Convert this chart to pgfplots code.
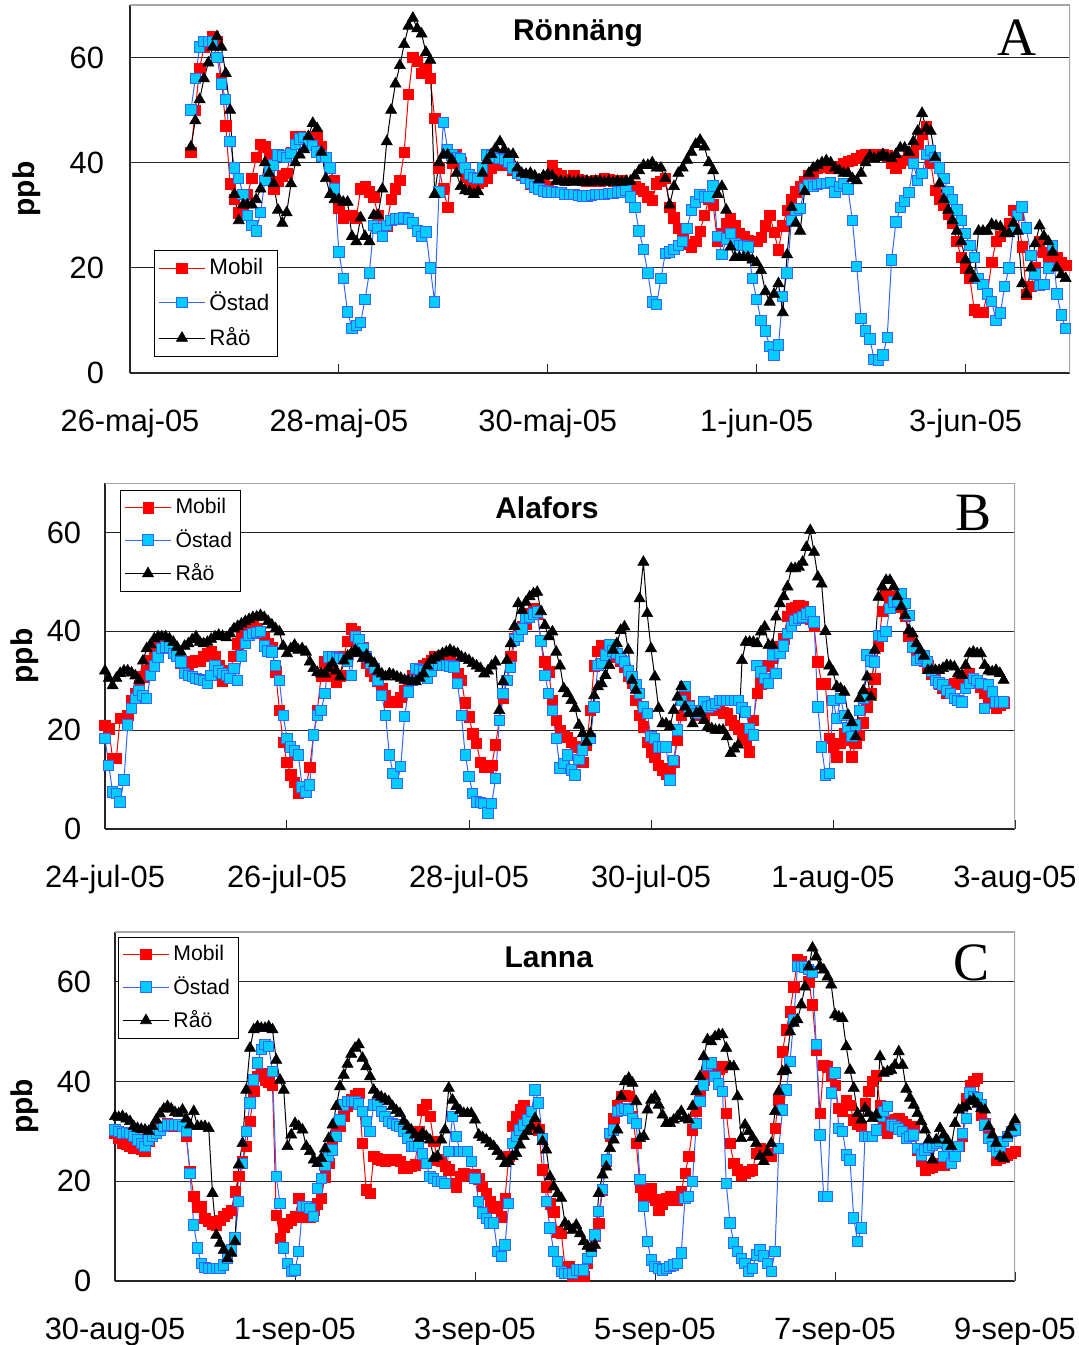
\documentclass[border=0pt]{standalone}
\usepackage{fontspec}
\setmainfont{Liberation Sans}
\newfontfamily\timesfont{Liberation Serif}
\usepackage{pgfplots}
\usepackage{pgfplotstable}
\pgfplotsset{compat=1.18}
\definecolor{ostfill}{RGB}{0,204,255}
\definecolor{ostline}{RGB}{51,102,255}

% ---------------- Panel A (hourly, first value at hour 14) ----------------
\pgfplotstableread[header=false,row sep=\\]{
42\\50\\58\\62\\63\\64\\63\\56\\47\\36\\
33\\30.5\\31.5\\34\\37\\41\\43.5\\43\\41.5\\35\\
36.5\\37.5\\38\\42\\45\\45\\44.5\\44.8\\45\\45.2\\
43\\41\\39\\36.6\\31.3\\29.5\\30\\30\\29.5\\35\\
35.5\\34.5\\33.5\\30\\27\\28\\33\\35\\36.6\\42\\
53\\60\\59.3\\57\\58\\56\\48.5\\39\\35\\31.5\\
40\\41.5\\40\\37.2\\36.5\\36\\36.2\\36.5\\37\\39\\
40.5\\39.5\\40\\39.5\\38.6\\38\\37.6\\37\\36\\36.2\\
36.2\\35.8\\35.5\\39.5\\38\\37.5\\36.6\\36.8\\37.5\\36.8\\
36.6\\36.5\\36.5\\36.6\\36.5\\37\\36.8\\36.5\\36.6\\36.6\\
34.5\\33.8\\35.4\\35\\34.6\\33.5\\32.8\\36\\36.5\\37\\
31.5\\29.5\\27.5\\26\\24.5\\24\\25\\27\\30\\33\\
32\\25\\26.5\\28.5\\29.3\\28\\26.5\\26\\25.2\\25\\
25\\25.8\\28\\30\\26.8\\23.4\\28\\31\\33\\34.5\\
35.5\\36.5\\37.5\\38\\38.9\\39.2\\39.5\\39\\39\\39.3\\
39.8\\40.3\\40.5\\40.8\\41.3\\41.5\\41.6\\41.3\\41.5\\41.6\\
41.3\\40\\39\\40\\40.5\\41.3\\42\\43.5\\45.5\\46.8\\
40\\34.7\\33\\32\\30.3\\28.5\\25\\22\\20\\18\\
12\\11.6\\11.6\\15\\21\\25\\26\\27\\28.5\\31\\
30\\24\\15\\16.5\\20\\25\\23\\21.5\\23\\22\\
21\\20.5\\
}\mobA
\pgfplotstableread[header=false,row sep=\\]{
50\\56\\62\\63\\63\\63\\60\\55\\52\\44\\
39\\37\\34\\30\\28\\27\\30.5\\36.6\\38.5\\39.6\\
41.5\\41.3\\41\\41.8\\43.5\\44.5\\44.8\\44\\43.3\\42\\
41.3\\41\\39\\35\\23\\18\\11.6\\8.5\\9\\9.6\\
14\\19\\28\\27.5\\26\\28\\29\\29.3\\29.3\\29.5\\
29.3\\28.5\\27\\26\\26.8\\20\\13.5\\34.4\\47.7\\42.5\\
41.5\\41\\40.8\\39\\37.8\\37.2\\37\\39\\41.5\\41.3\\
41\\40.8\\40.6\\40\\39\\38\\37.8\\37\\36\\35.4\\
35\\34.6\\34.4\\34.4\\34.3\\34.3\\34\\34\\34\\33.8\\
33.7\\33.7\\33.8\\34\\34\\34\\34.2\\34.2\\34.4\\34.4\\
34.7\\33.5\\31.5\\27\\23.5\\19\\13.5\\13\\18\\22.7\\
23\\23.5\\24.2\\25\\27.5\\31\\32.5\\34\\33.5\\33.5\\
35.6\\26\\22.5\\25.5\\26.5\\24.5\\24.3\\24.2\\24\\18\\
14\\10\\8\\5\\3.4\\5.3\\14.5\\19\\29\\31\\
31.3\\35\\35.8\\35.5\\35.8\\36\\36.1\\36.2\\34.4\\35.5\\
36\\35\\29\\20.2\\10.4\\8\\6.5\\2.6\\2.5\\3.4\\
6.8\\21.5\\28.7\\31.5\\32.7\\34.3\\39.8\\36.6\\37.9\\41.6\\
42.3\\41\\39\\37\\34.5\\33\\31\\29\\26.5\\24.3\\
22\\18\\16.8\\15\\13.6\\10\\11.4\\16.5\\20\\27.3\\
30\\31.6\\27.6\\22.3\\18.8\\16.6\\16.8\\20\\24.3\\15\\
11\\8.5\\
}\ostA
\pgfplotstableread[header=false,row sep=\\]{
43\\48\\52\\56\\59\\62\\64\\62\\57\\50\\
34\\29\\32\\32\\32\\33\\35\\40\\38\\36\\
31\\28.5\\30.5\\36\\40\\41.5\\42.5\\45\\47.5\\46.5\\
42\\37\\34\\33\\33\\32.5\\32.5\\26\\25\\29.5\\
26\\25\\30\\30\\35\\44\\50\\55\\58.5\\62.5\\
66\\67.5\\65.5\\64.5\\61\\59.5\\34\\40\\41.5\\41.5\\
40.5\\38\\35.5\\34.7\\34.5\\34\\34.5\\38\\40.4\\41.6\\
42.7\\44\\42.5\\41.6\\41.6\\39\\38\\37.8\\38\\37.5\\
36.8\\37.5\\37.8\\37.5\\36.5\\36.5\\36.3\\36.5\\36.3\\36.5\\
36.3\\36.5\\36.3\\36.5\\36.5\\36.3\\36.5\\36.3\\36.5\\36.3\\
36.5\\36.5\\37.5\\38.5\\39.5\\39.5\\40\\39\\39\\37\\
32\\35.5\\38\\39\\40.5\\42\\43.5\\44.3\\43\\40\\
38.5\\34\\35.5\\31\\24\\22\\22\\22\\22\\21.5\\
21\\19.5\\15.5\\13.5\\15\\17\\11.5\\22.5\\31.5\\28.5\\
27\\34.5\\38\\39\\39.5\\40\\40.4\\40\\39\\38.5\\
38\\38\\37\\36.6\\38\\40\\41.3\\40.8\\41\\41.6\\
41\\40.8\\41.6\\42.8\\42.8\\42\\44\\46\\49.4\\46.5\\
46\\41\\36\\33\\31\\29\\27\\25\\21.5\\19.5\\
18\\27\\27\\27\\28.3\\28\\27.8\\26.5\\26.5\\28.5\\
27\\17\\15\\20\\24.6\\28\\26\\25\\23\\20\\
18.7\\18\\
}\raoA

% ---------------- Panel B (hourly from hour 0) ----------------
\pgfplotstableread[header=false,row sep=\\]{
21\\20.3\\14.3\\14.3\\22.4\\22.4\\23\\26\\27.4\\29\\
30.8\\32\\34\\35.5\\36.8\\38\\38.2\\37.2\\36.5\\35\\
33.5\\32.5\\33\\33.8\\34\\34\\35\\35.5\\36\\34.8\\
33\\30\\30.8\\32\\35\\37.5\\39.5\\40.5\\40.9\\40.9\\
40.5\\40\\38.8\\37.5\\36.8\\31.8\\24\\17.5\\13.5\\11\\
9.5\\7.2\\7.5\\8.5\\12.5\\19\\24\\31\\33.8\\32.8\\
31\\29.8\\31\\35\\38\\40.5\\40\\37.5\\36.8\\33.5\\
32\\31\\30\\28.4\\27\\25.7\\25.7\\25.7\\26.7\\28\\
29.5\\31\\32\\32.1\\33\\33.5\\34\\34.8\\35\\35.2\\
35\\34.1\\33.2\\31.5\\30.1\\25.5\\22.7\\19.3\\17.3\\13.5\\
12.6\\12.6\\12.9\\17\\22\\26.4\\30.1\\35\\38.5\\40\\
40.9\\41.5\\43.6\\44.6\\43.5\\38\\33.8\\31.8\\26\\22\\
20\\18.7\\18.5\\17.5\\16.6\\13.9\\13.5\\17\\24\\33\\
36\\37.2\\37\\36.2\\35.5\\34.8\\34\\32.8\\31\\29.5\\
26\\23\\20.7\\17.5\\15.5\\14.6\\12.9\\12\\11.2\\12.3\\
13.6\\18\\23\\26.7\\25\\24\\23.4\\23\\22.7\\24\\
24\\24\\24\\23.5\\23.4\\22\\21\\20.3\\19\\18\\
15.6\\22\\27.5\\29.4\\30.1\\33\\34.5\\35.5\\37\\38.5\\
43\\44.6\\44.8\\45.3\\45\\44\\42.5\\41\\33.8\\29.4\\
29.4\\18.3\\16.5\\14.6\\17.3\\19.3\\18\\14.6\\17.3\\19\\
21.5\\24.7\\27.5\\30.4\\37\\44\\47.3\\47\\46.6\\46\\
44.8\\43\\39\\37\\35.8\\34.5\\34\\33\\31.4\\30.5\\
29.4\\28.5\\27.4\\28.5\\29.4\\30\\30.4\\31\\31.4\\30.5\\
29.5\\28.8\\27.5\\26.7\\25.5\\24.4\\25\\25.5\\
}\mobB
\pgfplotstableread[header=false,row sep=\\]{
18.3\\12.9\\7.5\\7.2\\5.5\\9.9\\21\\24.4\\26.4\\28\\
27\\26.4\\31\\33\\34.8\\36.5\\36.8\\36.8\\35.5\\35\\
33.8\\31.4\\31\\30.8\\30.4\\30.2\\30.1\\29.4\\31\\33.1\\
32\\31.4\\31\\30.4\\32.5\\30.1\\35\\37.5\\39.2\\39.5\\
39.7\\39.9\\37\\36\\35.8\\33.1\\30\\23\\18.3\\16.6\\
15.8\\15\\8.5\\7.5\\8.9\\19\\23\\24\\27.4\\34.8\\
34.8\\34.6\\34.5\\34.5\\34\\31.1\\39\\38.2\\36.5\\34.8\\
33.5\\32.5\\30.1\\27\\23\\15\\11.2\\9.2\\12.6\\22.7\\
27.7\\30\\32.5\\32.3\\32.1\\30.4\\32\\33.1\\33.1\\33.1\\
33.1\\33\\32.8\\29.4\\23\\15\\10.6\\7.2\\5.5\\5.3\\
5.2\\3.2\\5.2\\10.2\\22\\27.4\\30.1\\32.8\\38.2\\38.9\\
40.5\\42.6\\42.9\\43.5\\43.9\\38\\31.1\\27.4\\24\\18.3\\
12.3\\13.3\\15\\11.9\\10.9\\14\\16\\18\\18.3\\24.7\\
33.1\\33.5\\35.2\\37.2\\36\\35.5\\34.5\\33.8\\32\\30.8\\
29.1\\27.4\\24.7\\23.4\\18.7\\18.3\\16.6\\16.6\\16.6\\9.9\\
13.9\\20\\26\\28.8\\24.7\\24\\23.4\\24\\25.7\\24.7\\
25\\25.4\\26\\26\\26\\26\\26\\26\\24.5\\23.7\\
20.3\\19\\33.1\\31.8\\30.5\\29.4\\35.2\\31.4\\35.5\\37\\
39.5\\41\\42.2\\42.6\\42.9\\43.5\\43.9\\41.9\\24.7\\16.6\\
10.9\\11.2\\26\\22.4\\26.4\\23\\20.5\\18.7\\21\\24\\
26.4\\35.2\\34\\33.8\\39.2\\38.9\\40\\44.6\\45.9\\46\\
47.6\\45.6\\43.2\\36.8\\34.1\\34.5\\35\\33.8\\32\\30.1\\
29.5\\29.1\\28\\27.4\\26.4\\26\\25.7\\28.4\\29.5\\30.4\\
30\\29.4\\24.4\\29.1\\27.7\\25.7\\25.7\\25.7\\
}\ostB
\pgfplotstableread[header=false,row sep=\\]{
32\\30.5\\29\\30.5\\31.5\\32\\32\\31.6\\31\\30.1\\
34\\36.5\\37.3\\38.5\\38.9\\38.9\\38.9\\38.5\\37.8\\36.8\\
35.8\\37\\37.5\\38.3\\38.9\\37.8\\37.5\\37.8\\38.4\\38.9\\
39.2\\39\\38.7\\39.5\\40.5\\41\\41.5\\42\\42.4\\42.8\\
42.9\\43.2\\42.8\\42\\41.3\\40.5\\39.9\\37\\35.5\\36.5\\
37.2\\36.2\\36.5\\35.8\\33.8\\32.5\\31.7\\31.4\\31.4\\32.5\\
33.5\\32\\30.8\\34\\35\\35.6\\36.2\\35.5\\34.5\\35.2\\
34.2\\33.5\\32\\31.4\\30.8\\31.4\\31.2\\30.8\\30.5\\30.1\\
30\\29.8\\29.8\\30.5\\31.4\\33\\34.1\\34.6\\35\\35.5\\
35.8\\36.2\\35.8\\35.5\\34.8\\34.5\\34.1\\33.5\\33\\32.5\\
31.4\\32\\33\\33.8\\24\\29.8\\34.1\\37.5\\41\\45.6\\
44.2\\45.9\\47\\47.6\\47.9\\44\\41.2\\38.9\\39.9\\35.8\\
33\\28.4\\27.4\\26\\24.4\\21\\19.3\\17.6\\19.3\\27\\
28.8\\29.4\\31.1\\33.1\\36.2\\37.5\\40.2\\40.9\\36.2\\30.1\\
28.1\\46.6\\54\\43.6\\36.5\\30.8\\24.4\\21.3\\21.3\\20.7\\
24\\26.7\\28.8\\24.7\\23.4\\21.3\\23.4\\23.7\\22\\20.7\\
20.3\\20\\20\\20\\18.7\\15.3\\16.2\\17\\34.1\\37.8\\
37.8\\37.8\\37.5\\39.9\\40.9\\37.2\\37.2\\42.9\\45.6\\47\\
49\\52.7\\52.7\\53\\54\\57\\60.4\\56\\51\\49.6\\
40\\33\\31.8\\28.8\\28.4\\27.7\\23\\21.5\\18.7\\26.4\\
28\\30.8\\26.7\\36.2\\46.9\\49\\50.3\\50.3\\49\\47\\
45\\43.2\\40.2\\39.5\\37.5\\36.2\\35\\32.1\\32.1\\32.1\\
32.1\\32.5\\33.1\\33\\32.8\\31.5\\31.1\\33.1\\35.5\\35.8\\
35.5\\35.5\\33.1\\32\\31.8\\32.1\\31.5\\30.1\\
}\raoB

% ---------------- Panel C (hourly from hour 0) ----------------
\pgfplotstableread[header=false,row sep=\\]{
29.6\\28.6\\27.6\\27.5\\27\\26.6\\27\\26.5\\26\\28\\
30\\30.3\\30.6\\31\\31.6\\31.3\\31\\31.3\\31\\29\\
22\\17\\14.9\\14.9\\12.6\\12\\11.4\\11.2\\12.2\\13\\
13.6\\14.2\\17.9\\21\\24\\27\\32\\38\\41\\41.7\\
40.3\\39.8\\39.3\\13.2\\8.6\\10.9\\11.6\\12.3\\12.9\\16.6\\
14\\12.9\\12.9\\14.2\\15.5\\16.6\\20.9\\23.6\\27\\29.6\\
31\\33\\35\\36.5\\37.3\\37.7\\27.6\\18.3\\17.6\\25\\
24.5\\24.2\\24\\24.3\\24.3\\24.3\\24\\22.6\\22.6\\23\\
23.3\\30\\34.3\\35.5\\33\\28\\24.3\\24\\23\\22.3\\
19.6\\18.9\\21\\21.5\\21.3\\21.3\\21.3\\20.5\\19\\17.5\\
15.9\\14.9\\14.6\\12.9\\16.6\\25\\31\\33\\34.3\\35.3\\
34\\32\\31\\30.3\\22.3\\18.9\\15.5\\13.9\\9.9\\9.6\\
2.9\\2.9\\0.9\\1\\1\\0.9\\3.5\\6.2\\9\\11.6\\
18.3\\24\\29\\32.6\\35.3\\37\\37.3\\37\\33\\27.6\\
18.9\\16.9\\18.3\\18.6\\16.3\\14.2\\15.5\\16.6\\16.9\\16.3\\
16.3\\18\\21.6\\25\\30.3\\34\\37\\40.3\\42.3\\42\\
41.7\\42.5\\43\\33.6\\27.6\\23.6\\22.3\\21.3\\21.6\\22\\
22.3\\25.6\\26.6\\26\\25.6\\25\\30.6\\36.3\\46\\50.4\\
54\\59\\64.4\\64\\63.1\\60\\55.4\\46.4\\33.6\\43.3\\
43\\41\\39.3\\34.6\\34\\36.3\\35.3\\32.3\\31.5\\31\\
35.7\\38\\40\\41.3\\35.3\\31\\29.6\\32\\32.3\\32.6\\
32\\31.3\\30.6\\31\\26.3\\24\\22.3\\22.6\\22.9\\23.2\\
23.6\\23.3\\23.8\\24.3\\25.3\\27\\29\\36.7\\39.3\\40\\
40.7\\33.3\\31.6\\29.5\\27.6\\24.3\\24.6\\24.8\\25.3\\25.6\\
26\\
}\mobC
\pgfplotstableread[header=false,row sep=\\]{
30.3\\30\\29.6\\29.8\\29.6\\29\\28.3\\27.6\\27\\28.3\\
29\\29.6\\30.3\\31\\31.3\\31.3\\31.3\\31.3\\31\\30\\
21.6\\11.2\\6.6\\3.5\\2.7\\2.5\\2.5\\2.5\\2.5\\3.2\\
4.5\\6.2\\8.6\\15.9\\23.6\\30\\35.7\\40.3\\43.7\\46.4\\
47.4\\47\\42\\20.9\\15.6\\6.6\\3.5\\1.9\\2.2\\5.9\\
14.9\\14.9\\14.6\\12.9\\18.6\\20.5\\23.3\\25\\26.3\\29\\
32.3\\35.3\\36\\36\\36\\35.5\\34\\32\\30\\35.3\\
35.3\\34\\33\\32\\31.6\\31.3\\31\\30\\28.6\\27\\
27\\27\\25.5\\23.6\\21\\20.5\\19.9\\19.9\\19.6\\26\\
33\\29\\26\\26\\26\\24\\20.6\\15.9\\13.6\\12.5\\
11.6\\11.6\\5.9\\4.9\\7.2\\15.6\\27.6\\29\\30.3\\31.3\\
32.3\\34\\38.3\\35.7\\28.6\\15.9\\10.6\\5.9\\3.9\\1.9\\
1.5\\1.5\\1.5\\2.2\\2.2\\2.2\\4.5\\5.9\\9.2\\13.9\\
18.3\\24.3\\29.6\\30.3\\34\\34.3\\34.6\\34.3\\32.6\\31.6\\
20.3\\14.9\\7.9\\4.2\\2.9\\2.5\\2.2\\2.5\\2.9\\3.2\\
3.5\\5.6\\16.6\\16.9\\19.9\\31.6\\36\\39.3\\43.3\\43.7\\
41\\39.5\\38\\19.6\\11.6\\7.6\\5.9\\4.5\\3.5\\1.9\\
2.5\\5.2\\6.2\\5\\3.5\\1.9\\5.9\\26.6\\34.3\\38.3\\
44\\52.4\\63.1\\63.1\\63\\62.5\\62\\47.4\\29.3\\16.9\\
16.9\\37.7\\41.7\\30.6\\30\\25.3\\24.3\\12.6\\7.9\\10.6\\
29\\29\\29\\30.3\\33\\34\\35\\31.3\\31\\30.5\\
30\\28.6\\29\\29.3\\26.6\\25.3\\26.3\\26.8\\27.3\\27.6\\
28\\25\\27\\23.6\\25\\27\\29.6\\32.6\\37.7\\37\\
36.7\\35.3\\31.3\\28.6\\27\\26\\27\\28\\29\\30\\
30.3\\
}\ostC
\pgfplotstableread[header=false,row sep=\\]{
33\\32.8\\33\\32.5\\32\\31\\30.6\\30.4\\30.3\\30\\
31\\32.3\\33.5\\34.5\\35\\34.5\\33.8\\33.6\\34.3\\32.5\\
31.3\\34\\31\\31\\31\\30.6\\17.6\\9.2\\7.6\\6.2\\
4.5\\5.6\\7.9\\23.3\\27.6\\38.3\\46.7\\50.4\\51\\50.7\\
50.7\\51\\50.4\\44.3\\40.3\\38.3\\27\\29.3\\31.6\\31\\
30.3\\27\\26\\24.3\\23.6\\24.6\\26.5\\28.6\\31.3\\35\\
39\\41.3\\43.5\\45.5\\46.7\\47.4\\44.7\\43\\41\\38.3\\
37.3\\36.9\\36.5\\36\\35\\34.2\\33.6\\32\\31\\30.3\\
29.3\\28.6\\29.6\\29\\28.3\\24.6\\25\\28.3\\30.3\\38.7\\
36.3\\35\\34.2\\33.6\\33.6\\33.6\\32.3\\29.3\\28.8\\28.3\\
27.6\\27\\26\\25\\23.6\\24\\25\\25.6\\27.3\\29\\
30\\31\\32.6\\30.3\\28\\26.3\\20.9\\18.9\\17.5\\16.6\\
11.6\\10.9\\10.2\\11.2\\9.5\\7.9\\7\\6.6\\7.2\\17.6\\
21.3\\22.9\\26.6\\28.3\\30.3\\37\\40\\40.7\\39.7\\36\\
28.6\\29\\34.3\\36.3\\37\\35.3\\33.3\\31.6\\31.6\\32.3\\
33\\34\\32.6\\32.3\\35\\38\\41\\45\\48.4\\48\\
49\\49.4\\49.4\\46.7\\43\\43\\37\\28.6\\31.3\\30\\
28.8\\27.6\\25\\24\\25.8\\27.6\\34\\38\\42\\42.3\\
50\\51.7\\52.4\\55.4\\59\\63\\66.8\\65\\63.1\\62.4\\
61\\59.4\\53.4\\53\\52.7\\47\\42.3\\38.7\\33.6\\32.3\\
34.6\\33.6\\32.6\\33.3\\45\\41.7\\42\\42.3\\43.3\\46\\
43.3\\38.5\\36.7\\35.3\\33.6\\32\\30.3\\28.3\\24.3\\28.3\\
30.6\\29.3\\28.2\\27\\31.6\\34.3\\34.7\\35\\36\\36.3\\
35.5\\34.6\\34.3\\31\\29.3\\27.6\\25\\24.6\\29.3\\30.8\\
32.3\\
}\raoC

\pgfplotsset{
  panel/.style={
    scale only axis, anchor=south west,
    ymin=0, ymax=70, ytick={0,20,40,60},
    ymajorgrids, major grid style={black!85, line width=0.5pt},
    axis x line*=bottom, axis y line*=left,
    axis line style={black!85, line width=0.6pt},
    x tick style={black!85, line width=0.5pt},
    xtick align=inside, major tick length=4.5pt,
    ytick style={draw=none},
    /pgf/number format/assume math mode=true,
    tick label style={font=\fontsize{15.4}{18}\selectfont},
    xticklabel style={yshift=-14.8pt},
    ylabel={ppb},
    ylabel style={font=\bfseries\fontsize{15}{18}\selectfont, anchor=center},
    legend cell align=left,
    legend image code/.code={\draw[mark repeat=2,mark phase=2] plot coordinates {(0pt,0pt) (11.5pt,0pt) (23pt,0pt)};},
  },
  mob/.style={red, line width=0.5pt, mark=square*, mark size=2.6pt, mark options={fill=red, draw=red, line width=0.3pt}},
  ost/.style={ostline, line width=0.5pt, mark=square*, mark size=2.6pt, mark options={fill=ostfill, draw=ostline, line width=0.5pt}},
  rao/.style={black, line width=0.5pt, mark=triangle*, mark size=3.2pt, mark options={fill=black, draw=black, line width=0.3pt}},
}

\begin{document}
\begin{tikzpicture}
\useasboundingbox (0,0) rectangle (539pt,672.5pt);

% ---------- A ----------
\begin{axis}[panel, at={(65pt,486pt)}, width=470pt, height=184pt,
  xmin=0, xmax=216, xtick={0,48,96,144,192},
  xticklabels={26-maj-05,28-maj-05,30-maj-05,1-jun-05,3-jun-05},
  yticklabel style={xshift=-9.5pt},
  ylabel style={at={(axis description cs:-0.1096,0.5)}},
  legend style={at={(0.0255,0.334)}, anchor=north west, draw=black, line width=0.5pt, fill=white,
    font=\fontsize{11.2}{13}\selectfont, inner xsep=2pt, inner ysep=2pt, row sep=3pt,
    /tikz/every even column/.append style={column sep=2pt}}]
\addplot[mob] table[x expr=\coordindex+14, y index=0] {\mobA};
\addplot[ost] table[x expr=\coordindex+14, y index=0] {\ostA};
\addplot[rao] table[x expr=\coordindex+14, y index=0] {\raoA};
\legend{Mobil,Östad,Råö}
\draw[gray!70, line width=0.6pt] (axis description cs:0,1) -- (axis description cs:1,1) -- (axis description cs:1,0);
\node[font=\bfseries\fontsize{15}{18}\selectfont] at (axis description cs:0.4766,0.922) {Rönnäng};
\node[font=\timesfont\fontsize{27}{30}\selectfont] at (axis description cs:0.9436,0.91) {A};
\end{axis}

% ---------- B ----------
\begin{axis}[panel, at={(52.5pt,258pt)}, width=455pt, height=173pt,
  xmin=0, xmax=240, xtick={0,48,96,144,192,240},
  xticklabels={24-jul-05,26-jul-05,28-jul-05,30-jul-05,1-aug-05,3-aug-05},
  yticklabel style={xshift=-8.4pt},
  ylabel style={at={(axis description cs:-0.088,0.5)}},
  legend style={at={(0.0165,0.98)}, anchor=north west, draw=black, line width=0.5pt, fill=white,
    font=\fontsize{10.6}{12.5}\selectfont, inner xsep=2pt, inner ysep=2pt, row sep=2.5pt,
    /tikz/every even column/.append style={column sep=2pt}}]
\addplot[mob] table[x expr=\coordindex, y index=0] {\mobB};
\addplot[ost] table[x expr=\coordindex, y index=0] {\ostB};
\addplot[rao] table[x expr=\coordindex, y index=0] {\raoB};
\legend{Mobil,Östad,Råö}
\draw[gray!70, line width=0.6pt] (axis description cs:0,1) -- (axis description cs:1,1) -- (axis description cs:1,0);
\node[font=\bfseries\fontsize{15}{18}\selectfont] at (axis description cs:0.4857,0.928) {Alafors};
\node[font=\timesfont\fontsize{27}{30}\selectfont] at (axis description cs:0.954,0.913) {B};
\end{axis}

% ---------- C ----------
\begin{axis}[panel, at={(57.5pt,32pt)}, width=450pt, height=174.5pt,
  xmin=0, xmax=240, xtick={0,48,96,144,192,240},
  xticklabels={30-aug-05,1-sep-05,3-sep-05,5-sep-05,7-sep-05,9-sep-05},
  yticklabel style={xshift=-8.4pt},
  ylabel style={at={(axis description cs:-0.1,0.5)}},
  legend style={at={(0.0033,0.986)}, anchor=north west, draw=black, line width=0.5pt, fill=white,
    font=\fontsize{10.6}{12.5}\selectfont, inner xsep=2pt, inner ysep=2pt, row sep=2.5pt,
    /tikz/every even column/.append style={column sep=2pt}}]
\addplot[mob] table[x expr=\coordindex, y index=0] {\mobC};
\addplot[ost] table[x expr=\coordindex, y index=0] {\ostC};
\addplot[rao] table[x expr=\coordindex, y index=0] {\raoC};
\legend{Mobil,Östad,Råö}
\draw[gray!70, line width=0.6pt] (axis description cs:0,1) -- (axis description cs:1,1) -- (axis description cs:1,0);
\node[font=\bfseries\fontsize{15}{18}\selectfont] at (axis description cs:0.482,0.928) {Lanna};
\node[font=\timesfont\fontsize{27}{30}\selectfont] at (axis description cs:0.952,0.911) {C};
\end{axis}
\end{tikzpicture}
\end{document}
